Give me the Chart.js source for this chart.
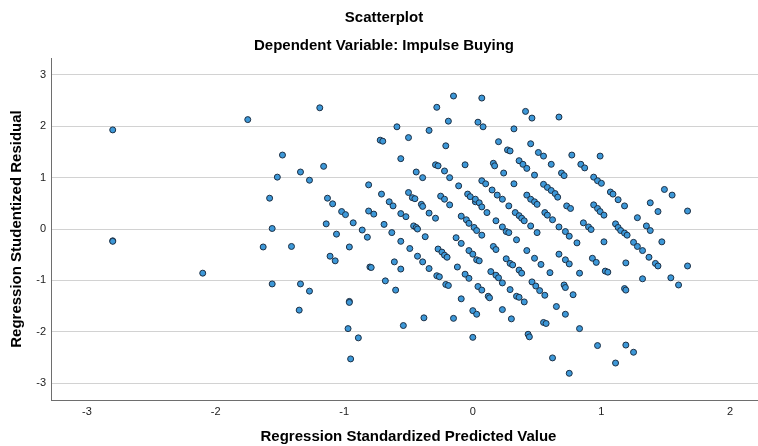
<!DOCTYPE html>
<html>
<head>
<meta charset="utf-8">
<title>Scatterplot</title>
<script src="https://cdn.jsdelivr.net/npm/chart.js@4.4.1/dist/chart.umd.min.js"></script>
<style>
  html, body { margin: 0; padding: 0; background: #fff; overflow: hidden; width: 758px; height: 446px; }
  #plot { display: block; }
</style>
</head>
<body>
<!-- the original export is a little wider than the window, its right edge is cut off -->
<canvas id="plot" width="770" height="446"></canvas>
<script>
// regression standardized predicted value (x) and studentized residual (y)
const predicted = [
  -2.80,-2.80,-2.80,-1.75,-2.10,-1.19,-1.48,-1.16,-1.34,-1.52,
  -1.27,-1.58,-1.13,-1.09,-1.02,-0.99,-0.93,-1.14,-1.56,-0.86,
  -0.81,-0.81,-0.82,-1.06,-1.63,-1.41,-0.96,-1.11,-1.07,-0.80,
  -0.79,-1.56,-1.34,-1.27,-1.35,-0.96,-0.96,-0.97,-0.89,-0.95,

  -0.15,-0.28,-0.19,0.04,-0.59,-0.34,-0.72,-0.70,-0.50,-0.21,
  -0.56,-0.06,-0.29,-0.27,-0.22,-0.18,-0.44,-0.39,-0.11,-0.71,
  -0.50,-0.47,-0.45,-0.65,-0.62,-0.40,-0.39,-0.25,-0.22,-0.18,
  -0.34,-0.29,-0.56,-0.52,-0.77,-0.69,-0.46,-0.44,-0.04,-0.02,
  0.02,-0.09,-0.05,0.01,

  -0.43,-0.63,-0.56,-0.49,-0.37,-0.43,-0.39,-0.34,-0.27,-0.24,
  -0.22,-0.20,-0.13,-0.09,-0.03,0.00,0.03,-0.12,-0.06,-0.03,
  0.04,-0.61,-0.56,-0.28,-0.26,-0.21,-0.19,-0.68,-0.60,-0.09,
  0.00,0.03,-0.38,-0.15,-0.54,0.00,

  0.07,0.41,0.46,0.67,0.08,0.32,0.20,0.45,0.27,0.29,
  0.51,0.55,0.77,0.61,0.84,0.87,0.36,0.39,0.42,0.48,
  0.16,0.17,0.24,0.69,0.71,0.32,0.07,0.10,0.55,0.58,
  0.61,0.64,0.66,0.15,0.19,0.23,0.02,0.05,0.07,0.11,
  0.42,0.45,0.48,0.50,0.28,0.73,0.76,0.33,0.36,0.38,
  0.40,0.56,0.58,0.62,0.18,0.45,0.67,0.86,0.23,-0.03,

  0.03,0.07,0.26,0.28,0.34,0.50,0.72,0.75,0.81,0.05,
  0.16,0.18,0.26,0.29,0.31,0.42,0.48,0.53,0.60,0.67,
  0.72,0.75,0.83,0.14,0.18,0.20,0.23,0.36,0.38,0.46,
  0.49,0.52,0.56,0.07,0.12,0.13,0.29,0.34,0.36,0.40,
  0.71,0.72,0.78,0.65,0.23,0.30,0.72,0.55,0.57,0.83,
  0.43,0.44,0.62,0.75,

  0.99,0.94,0.97,1.00,1.07,1.09,1.13,1.18,1.49,1.55,
  1.38,1.44,1.67,1.28,0.94,0.97,0.99,1.02,0.90,1.11,
  1.13,1.35,0.92,1.15,1.18,1.20,1.38,1.47,1.02,1.25,
  1.28,1.32,1.37,1.42,1.44,0.93,0.96,1.19,1.03,1.05,
  1.32,1.54,1.60,1.67,1.18,1.19,0.97,1.19,1.25,1.11
];

const residual = [
  1.93,-0.23,-0.24,2.13,-0.86,2.36,1.44,1.22,1.11,1.01,
  0.95,0.60,0.60,0.49,0.34,0.28,0.12,0.10,0.01,-0.02,
  0.86,0.35,-0.16,-0.10,-0.35,-0.34,-0.35,-0.53,-0.62,-0.74,
  -0.75,-1.07,-1.07,-1.21,-1.58,-1.41,-1.43,-1.94,-2.12,-2.53,

  2.59,2.37,2.10,2.08,1.99,1.92,1.73,1.71,1.78,1.62,
  1.37,1.25,1.25,1.23,1.13,1.00,1.11,1.00,0.84,0.68,
  0.71,0.61,0.59,0.53,0.45,0.48,0.44,0.64,0.58,0.47,
  0.31,0.21,0.30,0.24,0.29,0.09,0.06,0.03,0.68,0.63,
  0.53,0.25,0.18,0.03,

  0.00,-0.07,-0.24,-0.38,-0.15,-0.53,-0.64,-0.77,-0.39,-0.45,
  -0.51,-0.55,-0.17,-0.28,-0.42,-0.49,-0.60,-0.74,-0.88,-0.96,
  -1.12,-0.64,-0.78,-0.91,-0.93,-1.08,-1.10,-1.01,-1.19,-1.36,
  -1.59,-1.66,-1.73,-1.74,-1.88,-2.11,

  2.55,2.29,2.16,2.18,1.99,1.95,1.70,1.66,1.54,1.52,
  1.49,1.42,1.44,1.26,1.26,1.19,1.33,1.26,1.18,1.05,
  1.28,1.23,1.09,1.09,1.04,0.88,0.94,0.88,0.87,0.81,
  0.75,0.69,0.62,0.76,0.66,0.58,0.58,0.51,0.43,0.32,
  0.66,0.58,0.53,0.48,0.45,0.45,0.40,0.32,0.26,0.21,
  0.16,0.32,0.27,0.18,0.16,0.06,0.04,0.12,0.04,0.11,

  -0.03,-0.12,-0.05,-0.07,-0.21,-0.07,-0.05,-0.14,-0.27,-0.62,
  -0.34,-0.40,-0.58,-0.67,-0.70,-0.42,-0.57,-0.69,-0.85,-0.49,
  -0.60,-0.68,-0.86,-0.83,-0.90,-0.95,-1.05,-0.80,-0.86,-1.03,
  -1.11,-1.20,-1.29,-1.19,-1.31,-1.34,-1.18,-1.31,-1.33,-1.42,
  -1.09,-1.14,-1.28,-1.51,-1.57,-1.75,-1.66,-1.82,-1.84,-1.94,
  -2.05,-2.10,-2.51,-2.81,

  1.42,1.01,0.94,0.89,0.72,0.68,0.57,0.45,0.77,0.66,
  0.51,0.34,0.35,0.22,0.47,0.40,0.34,0.27,0.04,0.10,
  0.03,0.06,-0.01,-0.03,-0.08,-0.12,-0.03,-0.25,-0.25,-0.26,
  -0.34,-0.42,-0.55,-0.67,-0.72,-0.57,-0.65,-0.66,-0.82,-0.84,
  -0.97,-0.95,-1.09,-0.72,-1.16,-1.19,-2.27,-2.26,-2.40,-2.61
];

const xTicks = [-3, -2, -1, 0, 1, 2];
const yTicks = [-3, -2, -1, 0, 1, 2, 3];

const fontFamily = "'Liberation Sans', Arial, sans-serif";
const boldFont = { family: fontFamily, size: 15, weight: "bold" };
const tickFont = { family: fontFamily, size: 11 };

const points = predicted.map((x, i) => ({ x: x, y: residual[i] }));

new Chart(document.getElementById("plot"), {
  type: "scatter",
  data: {
    datasets: [{
      data: points,
      backgroundColor: "#3d98d8",
      borderColor: "#1c2f44",
      borderWidth: 1,
      pointRadius: 3,
      pointHoverRadius: 3
    }]
  },
  options: {
    responsive: false,
    animation: false,
    events: [],
    layout: { padding: { left: 0, right: 2, top: 0, bottom: 0 } },
    plugins: {
      legend: { display: false },
      tooltip: { enabled: false },
      title: {
        display: true,
        text: "Scatterplot",
        color: "#000",
        font: boldFont,
        padding: { top: 9, bottom: 10 }
      },
      subtitle: {
        display: true,
        text: "Dependent Variable: Impulse Buying",
        color: "#000",
        font: boldFont,
        padding: { top: 0, bottom: 3 }
      }
    },
    scales: {
      x: {
        type: "linear",
        min: -3.28,
        max: 2.28,
        afterBuildTicks: s => { s.ticks = xTicks.map(v => ({ value: v })); },
        afterFit: s => { s.height = 46; },
        grid: { display: false, drawTicks: false },
        border: { display: true, color: "#6e6e6e", width: 1 },
        ticks: { color: "#222", font: tickFont, padding: 5, maxRotation: 0 },
        title: {
          display: true,
          text: "Regression Standardized Predicted Value",
          color: "#000",
          font: boldFont,
          padding: { top: 0, bottom: 0 }
        }
      },
      y: {
        type: "linear",
        min: -3.33,
        max: 3.33,
        afterBuildTicks: s => { s.ticks = yTicks.map(v => ({ value: v })); },
        afterFit: s => { s.width = 51; },
        grid: { color: "#d2d2d2", lineWidth: 1, drawTicks: false },
        border: { display: true, color: "#6e6e6e", width: 1 },
        ticks: { color: "#222", font: tickFont, padding: 5 },
        title: {
          display: true,
          text: "Regression Studentized Residual",
          color: "#000",
          font: boldFont,
          padding: { top: 8, bottom: 0 }
        }
      }
    }
  }
});
</script>
</body>
</html>
